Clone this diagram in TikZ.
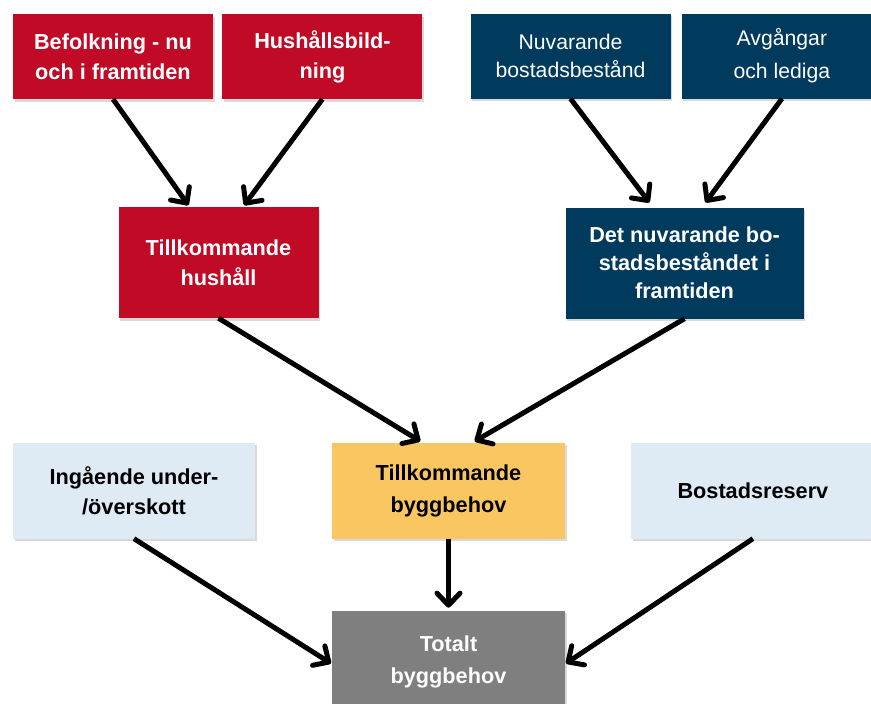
\documentclass[tikz,border=0pt]{standalone}
\usepackage{fontspec}
\setmainfont{Liberation Sans}
\usetikzlibrary{arrows.meta, positioning, shadows}

\definecolor{hushred}{HTML}{C00A26}
\definecolor{bostadblue}{HTML}{003A5D}
\definecolor{reservblue}{HTML}{DEEAF4}
\definecolor{byggyellow}{HTML}{FAC662}
\definecolor{totalgrey}{HTML}{7F7F7F}

\begin{document}
\begin{tikzpicture}[
    x=1pt, y=-1pt,
    node distance=9pt,
    box/.style={rectangle, inner sep=0pt, align=center, minimum width=200pt, minimum height=85pt, drop shadow={shadow xshift=1.5pt, shadow yshift=-2.5pt, opacity=0.3}, font=\fontsize{21.7}{30}\selectfont\bfseries},
    redbox/.style={box, fill=hushred, text=white},
    bluebox/.style={box, fill=bostadblue, text=white},
    lightbox/.style={box, fill=reservblue, text=black, minimum height=96pt},
    arrow/.style={-{Straight Barb[length=12pt, width=23pt, round]}, line width=5pt, draw=black}
]
    \useasboundingbox (0,0) rectangle (871,704);
    \clip (0,0) rectangle (871,704);

    % top row
    \node[redbox] (befolk) at (113,56.5) {Befolkning - nu\\och i framtiden};
    \node[redbox, right=of befolk] (hushbild) {Hushållsbild-\\ning};
    \node[bluebox, font=\fontsize{21.2}{28}\selectfont] (nuvar) at (570.5,56) {Nuvarande\\bostadsbestånd};
    \node[bluebox, right=11pt of nuvar, font=\fontsize{21.2}{28}\selectfont] (avgang) {Avgångar\\[5pt]och lediga};

    % middle row
    \node[redbox, minimum height=111pt] (tillhush) at (218.5,262.5) {Tillkommande\\hushåll};
    \node[bluebox, minimum width=238pt, minimum height=111pt, font=\fontsize{21.7}{28}\selectfont\bfseries] (detnuv) at (684.5,263) {Det nuvarande bo-\\stadsbeståndet i\\framtiden};

    % bottom rows
    \node[lightbox, minimum width=242pt] (ingaende) at (134,490.5) {Ingående under-\\/överskott};
    \node[lightbox, fill=byggyellow, minimum width=233pt, font=\fontsize{21.7}{32}\selectfont\bfseries] (tillbygg) at (448.5,490.5) {Tillkommande\\byggbehov};
    \node[lightbox, minimum width=243pt, right=66pt of tillbygg] (reserv) {Bostadsreserv};
    \node[lightbox, fill=totalgrey, text=white, minimum width=233pt, minimum height=102pt, font=\fontsize{21.7}{32}\selectfont\bfseries, below=72pt of tillbygg] (totalt) {Totalt\\byggbehov};

    \draw[arrow, shorten >=2pt] (befolk.south) -- ([xshift=-29pt]tillhush.north);
    \draw[arrow, shorten >=2pt] (hushbild.south) -- ([xshift=24.5pt]tillhush.north);
    \draw[arrow, shorten >=6pt] (nuvar.south) -- ([xshift=-31.5pt]detnuv.north);
    \draw[arrow, shorten >=6pt] (avgang.south) -- ([xshift=17.5pt]detnuv.north);
    \draw[arrow, shorten >=2pt] (tillhush.south) -- ([xshift=-26.5pt]tillbygg.north);
    \draw[arrow, shorten >=2pt] (detnuv.south) -- ([xshift=24.5pt]tillbygg.north);
    \draw[arrow, shorten >=3pt] (tillbygg.south) -- (totalt.north);
    \draw[arrow, shorten >=1pt] (ingaende.south) -- ([yshift=-2pt]totalt.west);
    \draw[arrow, shorten >=1pt] (reserv.south) -- ([yshift=-2pt]totalt.east);
\end{tikzpicture}
\end{document}
